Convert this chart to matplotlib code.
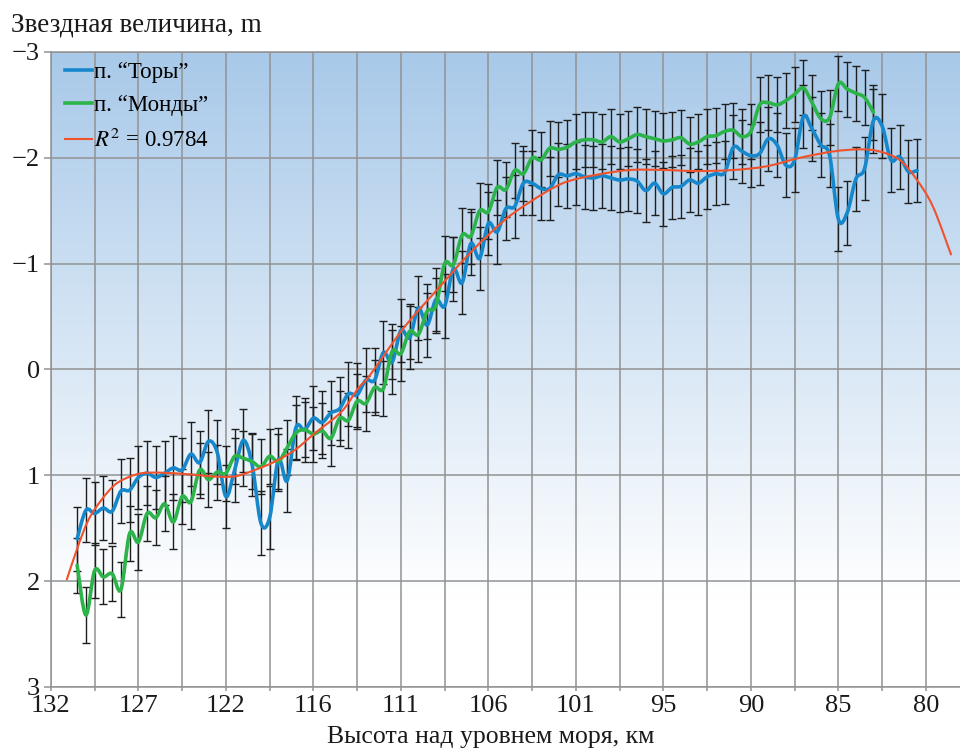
import numpy as np
import matplotlib.pyplot as plt
from matplotlib.path import Path
from matplotlib.patches import PathPatch
from matplotlib.lines import Line2D

plt.rcParams['font.family'] = ['Liberation Serif', 'DejaVu Serif']
plt.rcParams['mathtext.fontset'] = 'stix'

# -----------------------------
# data
# -----------------------------
tick_labels = ['132', '127', '122', '116', '111', '106', '101', '95', '90', '85', '80']

# magnitude, station "Tory", one value per 0.1 of a tick step starting at 0.3
tory = [1.60, 1.33, 1.36, 1.31, 1.34, 1.15, 1.14,
        1.02, 0.98, 1.02, 0.98, 0.93, 0.95, 0.80, 0.88, 0.68, 0.78,
        1.20, 0.95, 0.67, 0.90, 1.45, 1.40, 0.85, 1.05, 0.55, 0.57,
        0.46, 0.50, 0.41, 0.37, 0.23, 0.24, 0.10, 0.10, -0.16, -0.07,
        -0.37, -0.30, -0.58, -0.42, -0.66, -0.60, -0.95, -0.82, -1.19, -1.05,
        -1.38, -1.30, -1.52, -1.54, -1.76, -1.76, -1.71, -1.71, -1.84, -1.83,
        -1.85, -1.82, -1.81, -1.83, -1.81, -1.79, -1.80, -1.78, -1.69, -1.76,
        -1.66, -1.72, -1.73, -1.79, -1.76, -1.82, -1.85, -1.86, -2.10, -2.06,
        -2.02, -2.04, -2.18, -2.12, -1.93, -1.98, -2.39, -2.27, -2.12, -2.02,
        -1.42, -1.48, -1.80, -1.90, -2.35, -2.30, -1.98, -2.01, -1.87, -1.88]

# station "Mondy"
mondy = [1.85, 2.32, 1.90, 1.96, 1.93, 2.08, 1.55,
         1.63, 1.36, 1.40, 1.27, 1.44, 1.20, 1.25, 0.95, 1.04, 0.97,
         0.98, 0.82, 0.84, 0.87, 0.92, 0.82, 0.87, 0.74, 0.60, 0.57,
         0.61, 0.58, 0.65, 0.46, 0.48, 0.30, 0.32, 0.17, 0.18, -0.17,
         -0.15, -0.36, -0.33, -0.55, -0.60, -1.00, -0.99, -1.27, -1.26, -1.50,
         -1.49, -1.72, -1.70, -1.88, -1.85, -2.00, -1.98, -2.09, -2.08, -2.10,
         -2.15, -2.17, -2.17, -2.15, -2.20, -2.15, -2.18, -2.22, -2.20, -2.18,
         -2.16, -2.17, -2.19, -2.13, -2.15, -2.20, -2.21, -2.25, -2.26, -2.20,
         -2.25, -2.50, -2.52, -2.50, -2.54, -2.60, -2.66, -2.52, -2.37, -2.38,
         -2.70, -2.65, -2.61, -2.57, -2.43]

tory_err = 0.30
mondy_err = 0.26

# polynomial trend line, read as points
trend_x = [0.18, 0.31, 0.43, 0.58, 0.73, 0.88, 1.04, 1.26, 1.57, 1.84,
           2.10, 2.33, 2.56, 2.79, 3.02, 3.32, 3.51, 3.65, 4.03, 4.41,
           4.79, 5.17, 5.47, 5.85, 6.24, 6.62, 7.00, 7.38, 7.80, 8.18,
           8.56, 8.94, 9.25, 9.47, 9.70, 9.89, 10.08, 10.29]
trend_y = [1.99, 1.67, 1.42, 1.23, 1.09, 1.02, 0.98, 0.975, 0.99, 1.01,
           1.01, 0.95, 0.87, 0.76, 0.60, 0.40, 0.18, 0.05, -0.39, -0.75,
           -1.10, -1.40, -1.58, -1.76, -1.84, -1.885, -1.885, -1.875, -1.885, -1.92,
           -2.00, -2.06, -2.08, -2.06, -1.98, -1.80, -1.54, -1.08]

tory_x = 0.3 + 0.1 * np.arange(len(tory))
mondy_x = 0.3 + 0.1 * np.arange(len(mondy))

BLUE = '#1787cc'
GREEN = '#2cb34a'
RED = '#f0522c'


def smooth_path(x, y):
    # bezier path through the points (like a "smoothed line")
    pts = np.column_stack([x, y])
    n = len(pts)
    verts = [pts[0]]
    codes = [Path.MOVETO]
    for i in range(n - 1):
        p0 = pts[max(i - 1, 0)]
        p1 = pts[i]
        p2 = pts[i + 1]
        p3 = pts[min(i + 2, n - 1)]
        verts += [p1 + (p2 - p0) / 6, p2 - (p3 - p1) / 6, p2]
        codes += [Path.CURVE4] * 3
    return Path(verts, codes)


fig = plt.figure(figsize=(9.6, 7.49), dpi=100)
ax = fig.add_axes([0.053, 0.0828, 0.947, 0.8478])

# background gradient
t = np.linspace(0, 1, 256)
s = np.clip((t - 0.14) / 0.86, 0, 1)[:, None]
top = np.array([168, 201, 233]) / 255
grad = (1 - s) * np.ones(3) + s * top
ax.imshow(grad[:, None, :], extent=[0, 1, 0, 1], transform=ax.transAxes,
          origin='lower', aspect='auto', zorder=0)

ax.errorbar(tory_x, tory, yerr=tory_err, fmt='none', ecolor='#1e1e1e',
            elinewidth=1, capsize=2.6, capthick=1, zorder=2)
ax.errorbar(mondy_x, mondy, yerr=mondy_err, fmt='none', ecolor='#1e1e1e',
            elinewidth=1, capsize=2.6, capthick=1, zorder=2)

ax.add_patch(PathPatch(smooth_path(tory_x, tory), fill=False, edgecolor=BLUE,
                       lw=2.6, capstyle='round', zorder=3))
ax.add_patch(PathPatch(smooth_path(mondy_x, mondy), fill=False, edgecolor=GREEN,
                       lw=2.6, capstyle='round', zorder=3))
ax.add_patch(PathPatch(smooth_path(trend_x, trend_y), fill=False, edgecolor=RED,
                       lw=1.5, zorder=4))

ax.set_xlim(0, 10.39)
ax.set_ylim(3, -3)

ax.set_xticks(range(len(tick_labels)))
ax.set_xticklabels(tick_labels)
ax.set_xticks(np.arange(0.5, 10.4, 1.0), minor=True)
ax.set_yticks([-3, -2, -1, 0, 1, 2, 3])
ax.set_yticklabels(['\u22123', '\u22122', '\u22121', '0', '1', '2', '3'])

ax.grid(which='both', color='#929292', lw=1.1)
ax.set_axisbelow(True)
ax.tick_params(axis='both', which='both', colors='#929292', labelcolor='#1a1a1a',
               labelsize=19, width=1.1)
ax.tick_params(axis='y', length=5, pad=3)
ax.tick_params(axis='x', which='both', length=3, pad=3)

for side in ['left', 'bottom', 'top']:
    ax.spines[side].set_color('#929292')
    ax.spines[side].set_linewidth(1.1)
ax.spines['right'].set_visible(False)

handles = [Line2D([], [], color=BLUE, lw=2.6),
           Line2D([], [], color=GREEN, lw=2.6),
           Line2D([], [], color=RED, lw=1.5)]
labels = ['п. \u201cТоры\u201d', 'п. \u201cМонды\u201d', '$R^2$ = 0.9784']
ax.legend(handles, labels, loc='upper left', bbox_to_anchor=(0.015, 0.985),
          frameon=False, fontsize=16.5, handlelength=1.2, handletextpad=0.1,
          labelspacing=0.55, borderpad=0, borderaxespad=0)

fig.text(0.011, 0.966, 'Звездная величина, m', fontsize=19.5, ha='left', va='center',
         color='#1a1a1a')
fig.text(0.511, 0.008, 'Высота над уровнем моря, км', fontsize=18.5, ha='center',
         va='baseline', color='#1a1a1a')

fig.savefig('out.png', dpi=100)
